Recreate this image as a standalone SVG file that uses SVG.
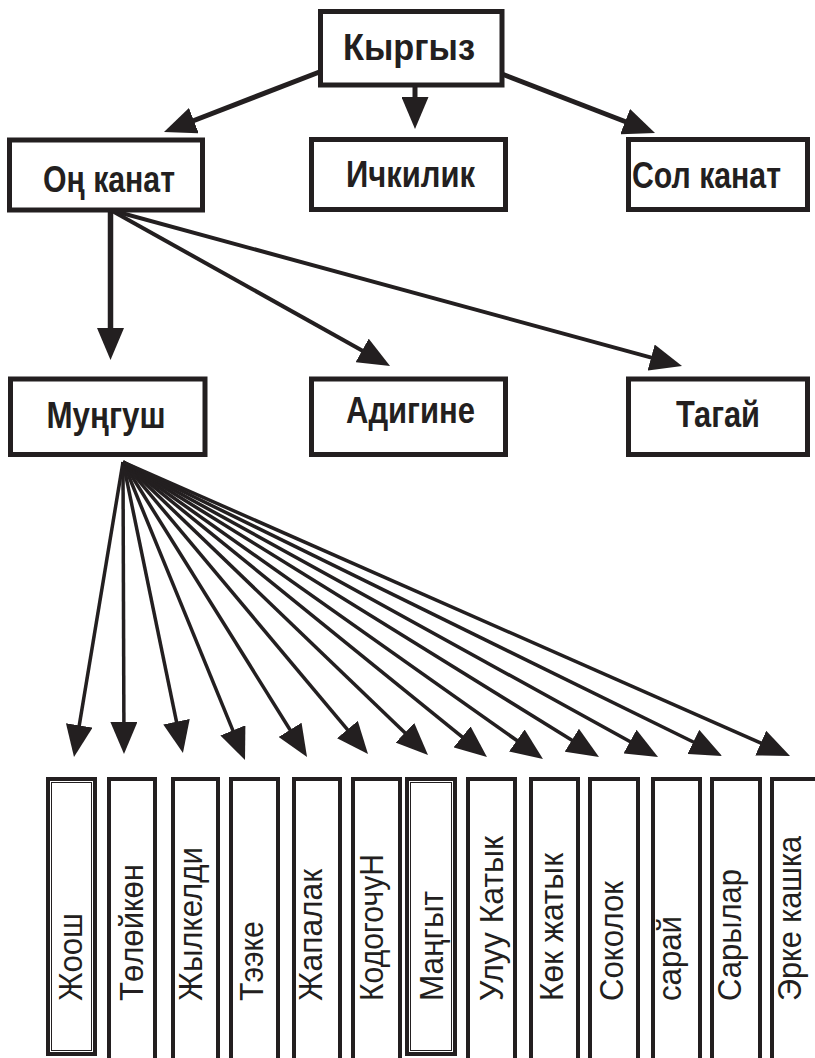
<svg xmlns="http://www.w3.org/2000/svg" width="815" height="1058" viewBox="0 0 815 1058">
<style>
.box{fill:#fff;stroke:#231f20;stroke-width:5}
.sbox{fill:#fff;stroke:#231f20;stroke-width:4}
.inner{fill:none;stroke:#231f20;stroke-width:1}
.lbl{font-family:"Liberation Sans",Arial,sans-serif;font-weight:bold;font-size:37px;fill:#231f20;text-anchor:middle}
.vl{font-family:"Liberation Sans",Arial,sans-serif;font-size:33px;fill:#231f20}
.c{stroke:#231f20;fill:none;marker-end:url(#ah)}
.w5{stroke-width:5}
.w55{stroke-width:5.5}
.w4{stroke-width:4}
.w35{stroke-width:3.5}
</style>
<defs>
<marker id="ah" markerUnits="userSpaceOnUse" viewBox="0 0 32 27" markerWidth="32" markerHeight="27" refX="4" refY="13.5" orient="auto">
<path d="M0,0 L32,13.5 L0,27 z" fill="#231f20"/>
</marker>
</defs>
<rect width="815" height="1058" fill="#fff"/>
<g id="connectors">
<line class="c w5" x1="322" y1="71" x2="190.1" y2="122"/>
<line class="c w5" x1="415" y1="87" x2="415" y2="101"/>
<line class="c w5" x1="502" y1="74" x2="628.9" y2="123"/>
<line class="c w55" x1="110.5" y1="210" x2="110.5" y2="332"/>
<line class="c w4" x1="110.5" y1="210" x2="365.6" y2="352.4"/>
<line class="c w4" x1="110.5" y1="210" x2="655" y2="358.6"/>
<line class="c w35" x1="123" y1="462" x2="78.6" y2="729.4"/>
<line class="c w35" x1="123" y1="462" x2="123.9" y2="726"/>
<line class="c w35" x1="123" y1="462" x2="177.3" y2="725.6"/>
<line class="c w35" x1="123" y1="462" x2="234.4" y2="734.1"/>
<line class="c w35" x1="123" y1="462" x2="292.2" y2="733.2"/>
<line class="c w35" x1="123" y1="462" x2="350" y2="732.6"/>
<line class="c w35" x1="123" y1="462" x2="407.8" y2="735.6"/>
<line class="c w35" x1="123" y1="462" x2="465.2" y2="739.4"/>
<line class="c w35" x1="123" y1="462" x2="520.1" y2="742.8"/>
<line class="c w35" x1="123" y1="462" x2="575.2" y2="742.3"/>
<line class="c w35" x1="123" y1="462" x2="633.5" y2="743.5"/>
<line class="c w35" x1="123" y1="462" x2="696.9" y2="743.7"/>
<line class="c w35" x1="123" y1="462" x2="764.4" y2="744.7"/>
</g>
<g id="kyrgyz"><rect class="box" x="320.5" y="11.5" width="181.5" height="73.5"/><text class="lbl" x="409" y="59.5" textLength="132" lengthAdjust="spacingAndGlyphs">Кыргыз</text></g>
<g id="on-kanat"><rect class="box" x="9.5" y="140" width="193" height="70"/><text class="lbl" x="109" y="192" textLength="132" lengthAdjust="spacingAndGlyphs">Оң канат</text></g>
<g id="ichkilik"><rect class="box" x="311.5" y="139.5" width="194" height="70"/><text class="lbl" x="410.5" y="187" textLength="129" lengthAdjust="spacingAndGlyphs">Ичкилик</text></g>
<g id="sol-kanat"><rect class="box" x="628.5" y="139.5" width="179" height="70"/><text class="lbl" x="706.5" y="188" textLength="149" lengthAdjust="spacingAndGlyphs">Сол канат</text></g>
<g id="mungush"><rect class="box" x="10.5" y="379" width="194.5" height="75.5"/><text class="lbl" x="106" y="428" textLength="119" lengthAdjust="spacingAndGlyphs">Муңгуш</text></g>
<g id="adigine"><rect class="box" x="311.5" y="379" width="194" height="75.5"/><text class="lbl" x="410.5" y="423" textLength="129" lengthAdjust="spacingAndGlyphs">Адигине</text></g>
<g id="tagay"><rect class="box" x="628.5" y="379" width="179" height="75.5"/><text class="lbl" x="718" y="427" textLength="84" lengthAdjust="spacingAndGlyphs">Тагай</text></g>
<g id="zhoosh"><rect class="sbox" x="48" y="779" width="47" height="275"/><rect class="inner" x="51.5" y="782.5" width="40" height="268"/><text class="vl" transform="translate(82,1001) rotate(-90)" textLength="88" lengthAdjust="spacingAndGlyphs">Жоош</text></g>
<g id="toloykon"><rect class="sbox" x="109" y="779" width="46" height="300"/><text class="vl" transform="translate(143,1001) rotate(-90)" textLength="137" lengthAdjust="spacingAndGlyphs">Төлөйкөн</text></g>
<g id="zhylkeldi"><rect class="sbox" x="173" y="779" width="45" height="300"/><text class="vl" transform="translate(202,1001) rotate(-90)" textLength="154" lengthAdjust="spacingAndGlyphs">Жылкелди</text></g>
<g id="teeke"><rect class="sbox" x="231" y="779" width="47" height="300"/><text class="vl" transform="translate(263,1001) rotate(-90)" textLength="80" lengthAdjust="spacingAndGlyphs">Тээке</text></g>
<g id="zhapalak"><rect class="sbox" x="294" y="779" width="46" height="300"/><text class="vl" transform="translate(322,1001) rotate(-90)" textLength="132" lengthAdjust="spacingAndGlyphs">Жапалак</text></g>
<g id="kodogochun"><rect class="sbox" x="353" y="779" width="47" height="300"/><text class="vl" transform="translate(383,1001) rotate(-90)" textLength="147" lengthAdjust="spacingAndGlyphs">КодогочуН</text></g>
<g id="mangyt"><rect class="sbox" x="407" y="779" width="48" height="275"/><rect class="inner" x="410.5" y="782.5" width="41" height="268"/><text class="vl" transform="translate(443,1001) rotate(-90)" textLength="110" lengthAdjust="spacingAndGlyphs">Маңгыт</text></g>
<g id="uluu-katyk"><rect class="sbox" x="468" y="779" width="47" height="300"/><text class="vl" transform="translate(503,1001) rotate(-90)" textLength="165" lengthAdjust="spacingAndGlyphs">Улуу Катык</text></g>
<g id="kok-zhatyk"><rect class="sbox" x="531" y="779" width="47" height="300"/><text class="vl" transform="translate(563,1001) rotate(-90)" textLength="148" lengthAdjust="spacingAndGlyphs">Көк жатык</text></g>
<g id="sokolok"><rect class="sbox" x="590" y="779" width="48" height="300"/><text class="vl" transform="translate(623,1001) rotate(-90)" textLength="120" lengthAdjust="spacingAndGlyphs">Соколок</text></g>
<g id="saray"><rect class="sbox" x="653" y="779" width="47" height="300"/><text class="vl" transform="translate(681,1001) rotate(-90)" textLength="85" lengthAdjust="spacingAndGlyphs">сарай</text></g>
<g id="sarylar"><rect class="sbox" x="712" y="779" width="48" height="300"/><text class="vl" transform="translate(741,1001) rotate(-90)" textLength="132" lengthAdjust="spacingAndGlyphs">Сарылар</text></g>
<g id="erke-kashka"><rect class="sbox" x="772" y="779" width="60" height="300"/><text class="vl" transform="translate(801,1001) rotate(-90)" textLength="165" lengthAdjust="spacingAndGlyphs">Эрке кашка</text></g>
</svg>
